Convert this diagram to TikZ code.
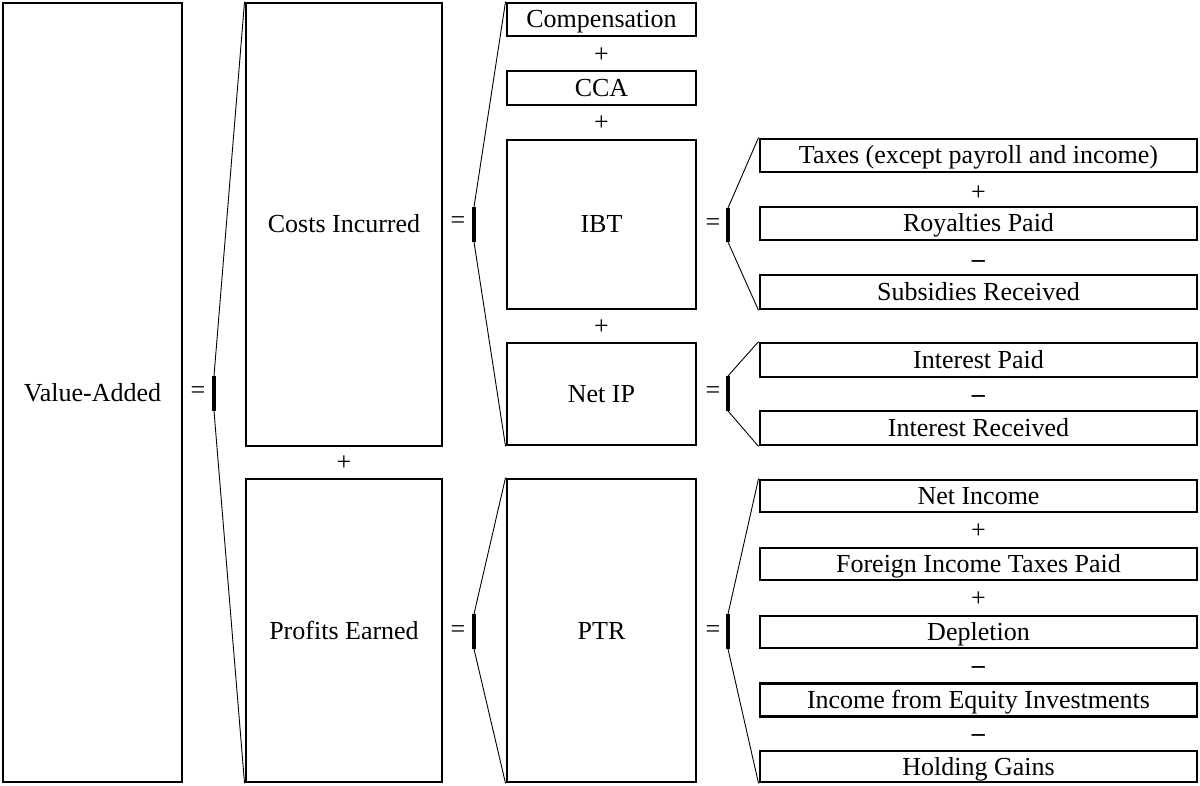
\documentclass[tikz,border=0pt]{standalone}
\usepackage{fontspec}
\setmainfont{Liberation Serif}
\begin{document}
\begin{tikzpicture}[x=1pt,y=-1pt,
  every node/.style={font=\fontsize{26}{30}\selectfont},
  bx/.style={draw, line width=2.9pt, inner sep=0pt, minimum width=#1, text height=17pt, text depth=0pt},
  thin/.style={line width=0.9pt},
  bar/.style={line width=3.2pt},
  op/.style={inner sep=0pt}]
\useasboundingbox (0,0) rectangle (1200,786);
% column 1
\node[bx=179pt, minimum height=779pt] (va) at (92.5,392.5) {Value-Added};
% column 2
\node[bx=196pt, minimum height=443pt] (costs) at (344,224.5) {Costs Incurred};
\node[bx=196pt, minimum height=303pt] (profits) at (344,630.5) {Profits Earned};
\node[op] (p0) at (344,463) {+};
% column 3
\node[bx=189pt, minimum height=33pt] (comp) at (601.5,19.5) {Compensation};
\node[bx=189pt, minimum height=34pt] (cca) at (601.5,88) {CCA};
\node[bx=189pt, minimum height=169pt] (ibt) at (601.5,224.5) {IBT};
\node[bx=189pt, minimum height=102pt] (netip) at (601.5,394) {Net IP};
\node[bx=189pt, minimum height=303pt] (ptr) at (601.5,630.5) {PTR};
\node[op] (p1) at (601.5,55) {+};
\node[op] (p2) at (601.5,123) {+};
\node[op] (p3) at (601.5,327) {+};
% column 4
\node[bx=437pt, minimum height=33pt] (taxes) at (978.5,155.5) {Taxes (except payroll and income)};
\node[bx=437pt, minimum height=33pt] (roy) at (978.5,223.5) {Royalties Paid};
\node[bx=437pt, minimum height=34pt] (sub) at (978.5,292) {Subsidies Received};
\node[op] (p4) at (978.5,193) {+};
\node[op] (m1) at (978.5,264) {\textbf{--}};
\node[bx=437pt, minimum height=34pt] (intp) at (978.5,360) {Interest Paid};
\node[bx=437pt, minimum height=34pt] (intr) at (978.5,428) {Interest Received};
\node[op] (m2) at (978.5,399) {\textbf{--}};
\node[bx=437pt, minimum height=32pt] (ni) at (978.5,496) {Net Income};
\node[bx=437pt, minimum height=32pt] (fit) at (978.5,564) {Foreign Income Taxes Paid};
\node[bx=437pt, minimum height=32pt] (dep) at (978.5,632) {Depletion};
\node[bx=437pt, minimum height=33pt] (eq) at (978.5,700) {Income from Equity Investments};
\node[bx=437pt, minimum height=31pt] (hg) at (978.5,766.5) {Holding Gains};
\node[op] (p5) at (978.5,531) {+};
\node[op] (p6) at (978.5,599) {+};
\node[op] (m3) at (978.5,670) {\textbf{--}};
\node[op] (m4) at (978.5,738) {\textbf{--}};
% equals signs
\node[op] (e1) at (198,393) {=};
\node[op] (e2) at (458,223) {=};
\node[op] (e3) at (458,632) {=};
\node[op] (e4) at (713,225) {=};
\node[op] (e5) at (713,393) {=};
\node[op] (e6) at (713,632) {=};
% bracket coordinates
\coordinate (b1t) at (214,376); \coordinate (b1b) at (214,411);
\coordinate (b2t) at (474,207); \coordinate (b2b) at (474,242);
\coordinate (b3t) at (474,614); \coordinate (b3b) at (474,649);
\coordinate (b4t) at (728,208); \coordinate (b4b) at (728,242);
\coordinate (b5t) at (728,376); \coordinate (b5b) at (728,411);
\coordinate (b6t) at (728,614); \coordinate (b6b) at (728,649);
\draw[bar] (b1t) -- (b1b);
\draw[bar] (b2t) -- (b2b);
\draw[bar] (b3t) -- (b3b);
\draw[bar] (b4t) -- (b4b);
\draw[bar] (b5t) -- (b5b);
\draw[bar] (b6t) -- (b6b);
\draw[thin] (b1t) -- (costs.north west);
\draw[thin] (b1b) -- (profits.south west);
\draw[thin] (b2t) -- (comp.north west);
\draw[thin] (b2b) -- (netip.south west);
\draw[thin] (b3t) -- (ptr.north west);
\draw[thin] (b3b) -- (ptr.south west);
\draw[thin] (b4t) -- (taxes.north west);
\draw[thin] (b4b) -- (sub.south west);
\draw[thin] (b5t) -- (intp.north west);
\draw[thin] (b5b) -- (intr.south west);
\draw[thin] (b6t) -- (ni.north west);
\draw[thin] (b6b) -- (hg.south west);
\end{tikzpicture}
\end{document}
